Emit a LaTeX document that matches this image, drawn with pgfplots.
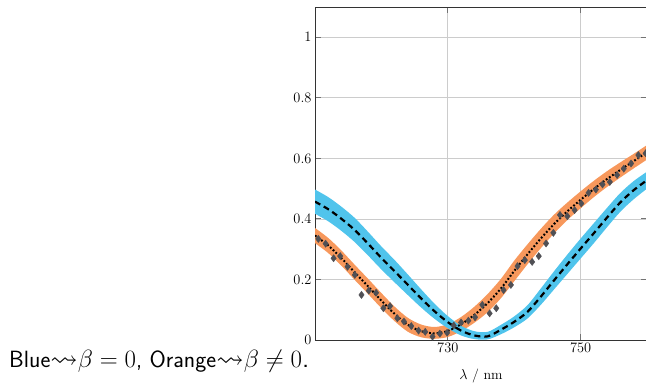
\documentclass[border=0pt]{standalone}
\usepackage{amssymb}
\usepackage{pgfplots}
\usepackage{pgfplotstable}
\pgfplotsset{compat=1.18}
\usepgfplotslibrary{fillbetween}
\definecolor{bandblue}{RGB}{80,196,236}
\definecolor{bandorange}{RGB}{247,152,92}
\definecolor{ptgray}{RGB}{80,80,85}

\pgfplotstableread{
x c lo hi
710 0.457 0.417 0.497
712 0.432 0.392 0.472
714 0.400 0.360 0.440
716 0.363 0.323 0.403
718 0.318 0.279 0.357
720 0.271 0.233 0.309
722 0.227 0.190 0.264
724 0.182 0.148 0.216
726 0.137 0.107 0.167
728 0.095 0.070 0.120
730 0.059 0.039 0.079
732 0.031 0.015 0.047
734 0.015 0.003 0.029
736 0.012 0.002 0.027
738 0.034 0.019 0.050
740 0.060 0.042 0.078
742 0.093 0.071 0.115
744 0.143 0.116 0.170
746 0.197 0.167 0.227
748 0.250 0.218 0.282
750 0.302 0.269 0.335
752 0.353 0.320 0.386
754 0.405 0.373 0.437
756 0.455 0.424 0.486
758 0.495 0.465 0.525
760 0.528 0.500 0.556
}\bluetab

\pgfplotstableread{
x c lo hi
710 0.345 0.320 0.370
712 0.312 0.287 0.337
714 0.270 0.245 0.295
716 0.223 0.198 0.248
718 0.177 0.152 0.202
720 0.130 0.105 0.155
722 0.086 0.062 0.110
724 0.050 0.027 0.073
726 0.029 0.009 0.051
728 0.022 0.004 0.043
730 0.030 0.010 0.052
732 0.052 0.029 0.076
734 0.083 0.057 0.110
736 0.122 0.092 0.152
738 0.170 0.138 0.202
740 0.228 0.194 0.262
742 0.283 0.250 0.316
744 0.335 0.303 0.367
746 0.383 0.352 0.414
748 0.425 0.396 0.454
750 0.463 0.435 0.491
752 0.499 0.472 0.526
754 0.532 0.506 0.558
756 0.562 0.537 0.587
758 0.591 0.567 0.615
760 0.620 0.596 0.644
}\orangetab

\pgfplotstableread{
x y
710.5 0.334
711.6 0.318
712.8 0.270
713.8 0.277
714.9 0.242
716.0 0.215
717.0 0.149
718.1 0.163
719.2 0.156
720.3 0.105
721.3 0.112
722.4 0.072
723.4 0.061
724.5 0.046
725.6 0.031
726.6 0.027
727.7 0.011
728.8 0.021
729.9 0.024
730.9 0.048
732.0 0.058
733.1 0.064
734.1 0.075
735.2 0.116
736.3 0.088
737.3 0.105
738.4 0.165
739.5 0.182
740.5 0.244
741.6 0.264
742.7 0.258
743.7 0.277
744.8 0.319
745.9 0.354
746.9 0.413
748.0 0.409
749.1 0.429
750.1 0.451
751.2 0.486
752.3 0.497
753.3 0.514
754.4 0.522
755.5 0.545
756.5 0.566
757.6 0.583
758.7 0.611
759.8 0.617
}\pointtab

\begin{document}
\begin{tikzpicture}
\begin{axis}[
  at={(315pt,44pt)}, anchor=south west,
  scale only axis, width=332pt, height=333pt,
  xmin=710, xmax=760, ymin=0, ymax=1.1,
  xtick={730,750}, ytick={0,0.2,0.4,0.6,0.8,1},
  grid=major, grid style={black!20, line width=0.8pt},
  axis line style={black!80, line width=0.9pt},
  tick style={black!55, line width=0.9pt},
  major tick length=6pt, tick align=inside,
  ticklabel style={font=\fontsize{14}{16}\selectfont},
  xlabel={$\lambda$ / nm},
  xlabel style={font=\fontsize{14}{16}\selectfont, yshift=-9pt},
  clip=true,
]
\addplot[name path=oh, draw=none, smooth, forget plot] table[x=x, y=hi] {\orangetab};
\addplot[name path=ol, draw=none, smooth, forget plot] table[x=x, y=lo] {\orangetab};
\addplot[bandorange, draw=none, forget plot] fill between[of=oh and ol];
\addplot[name path=bh, draw=none, smooth, forget plot] table[x=x, y=hi] {\bluetab};
\addplot[name path=bl, draw=none, smooth, forget plot] table[x=x, y=lo] {\bluetab};
\addplot[bandblue, draw=none, forget plot] fill between[of=bh and bl];
\addplot[only marks, mark=diamond*, mark size=3.6pt, ptgray, mark options={draw=ptgray, fill=ptgray}] table[x=x, y=y] {\pointtab};
\addplot[black, smooth, line width=2pt, dash pattern=on 1.8pt off 2pt] table[x=x, y=c] {\orangetab};
\addplot[black, smooth, line width=2.2pt, dash pattern=on 6pt off 4pt] table[x=x, y=c] {\bluetab};
\end{axis}
\node[anchor=base west, font=\sffamily\fontsize{23.5}{27}\selectfont, inner sep=0pt] at (9pt,17pt) {Blue{\fontsize{27.5}{31}\selectfont$\mathord{\rightsquigarrow}\beta=0$}, Orange{\fontsize{27.5}{31}\selectfont$\mathord{\rightsquigarrow}\beta\neq0$.}};
\node[anchor=base west, font=\bfseries\fontsize{20}{24}\selectfont, inner sep=0pt] at (566pt,387pt) {p};
\pgfresetboundingbox
\path[use as bounding box] (0pt,0pt) rectangle (646pt,384pt);
\end{tikzpicture}
\end{document}
